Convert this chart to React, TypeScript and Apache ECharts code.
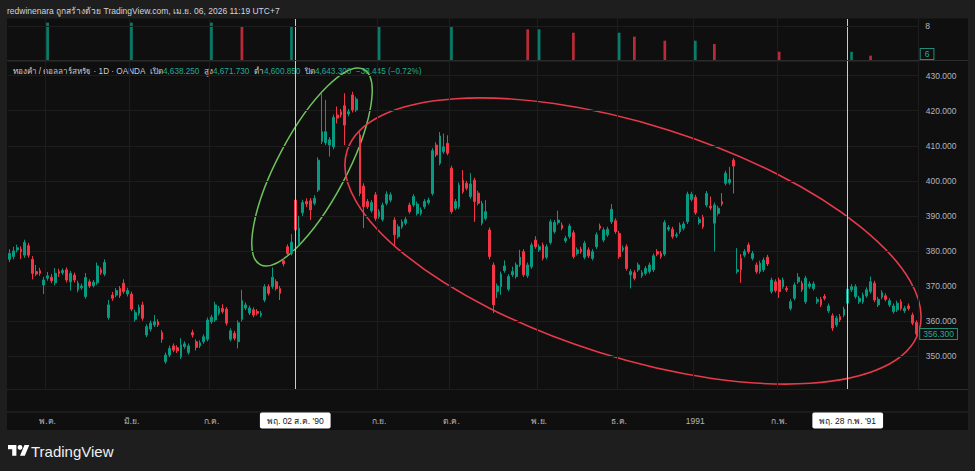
import React, { useEffect, useRef } from "react";
import * as echarts from "echarts";

const FONT = "'Liberation Sans', Arial, 'Noto Sans', 'DejaVu Sans', sans-serif";

// Trading days: weekdays from 1990-04-17, minus these holidays
const startDate = "1990-04-17";
const holidays = ["1990-05-28", "1990-07-04", "1990-09-03", "1990-11-22", "1990-12-25", "1991-01-01", "1991-02-18"];

// Candles: [open, close, low, high]
const candlesAprJul: number[][] = [
  [377.6, 379.3, 376.8, 380.5], [378.4, 380.0, 377.6, 381.2], [380.3, 380.9, 379.6, 381.8], [380.5, 379.8, 377.7, 381.3],
  [378.8, 382.4, 378.0, 383.2], [381.5, 378.8, 378.1, 382.3], [377.6, 373.6, 371.9, 378.5], [374.1, 373.4, 372.8, 376.0],
  [374.4, 373.6, 372.9, 375.2], [370.3, 371.7, 367.7, 372.6], [372.2, 372.9, 371.5, 374.0], [372.5, 371.5, 370.8, 373.4],
  [370.9, 373.6, 370.2, 375.1], [374.1, 373.6, 372.6, 374.9], [373.8, 374.4, 373.2, 375.0], [374.6, 371.7, 371.0, 375.3],
  [371.2, 373.6, 368.7, 374.3], [373.1, 371.7, 371.0, 373.8], [368.9, 370.8, 368.2, 371.5], [369.5, 370.0, 368.9, 370.7],
  [367.0, 372.4, 366.4, 373.7], [371.2, 370.0, 369.4, 371.9], [370.1, 371.1, 369.6, 371.7], [370.9, 375.7, 370.3, 376.7],
  [374.6, 373.8, 373.2, 375.3], [373.4, 376.7, 372.8, 377.6], [361.0, 364.6, 360.4, 366.0], [367.4, 366.5, 365.8, 368.3],
  [367.4, 368.7, 366.8, 369.4], [369.3, 367.2, 366.6, 370.0], [370.8, 368.4, 367.8, 371.9], [367.7, 368.7, 367.0, 369.5],
  [367.7, 363.4, 362.8, 368.4], [360.5, 362.4, 359.8, 363.2], [362.2, 363.9, 361.5, 364.7], [364.6, 360.8, 360.1, 365.5],
  [356.0, 358.4, 355.4, 359.1], [357.7, 359.4, 357.0, 360.1], [358.9, 359.8, 358.3, 361.7], [359.8, 358.9, 358.3, 360.5],
  [356.7, 354.8, 353.8, 357.4], [348.4, 350.3, 347.8, 351.0], [350.3, 352.2, 349.7, 353.0], [352.9, 351.7, 351.1, 353.6],
  [352.4, 351.5, 350.9, 353.1], [349.8, 353.2, 349.2, 355.1], [352.7, 353.5, 352.1, 354.2], [351.0, 352.9, 350.4, 353.6],
  [356.7, 356.0, 355.3, 357.5], [354.1, 352.5, 351.6, 354.8], [352.9, 353.8, 352.3, 354.5], [354.1, 355.5, 353.5, 356.2],
  [354.8, 360.3, 354.2, 361.0], [359.8, 361.1, 359.2, 361.8], [360.3, 364.6, 359.7, 365.5], [362.2, 363.6, 361.6, 364.3],
  [363.6, 362.7, 362.1, 364.8], [363.4, 359.4, 358.7, 364.0], [354.8, 357.2, 354.2, 357.9], [356.5, 355.1, 354.5, 357.2],
  [354.1, 359.5, 352.2, 360.2], [360.5, 365.8, 359.9, 368.9], [363.7, 364.6, 363.1, 365.3], [362.3, 363.7, 361.7, 364.4],
  [363.2, 361.7, 361.1, 363.9], [362.7, 362.2, 361.6, 363.4], [361.7, 362.2, 361.1, 362.9], [366.0, 369.8, 365.4, 370.5],
  [369.8, 367.9, 367.3, 370.5], [369.8, 372.5, 369.2, 375.3], [371.2, 369.3, 368.7, 371.9], [369.3, 367.9, 366.0, 370.0],
  [377.2, 376.3, 375.6, 378.0], [381.2, 379.3, 378.7, 381.9], [379.3, 382.5, 378.7, 384.8],
];
const candlesAugOct: number[][] = [
  [394.5, 386.0, 385.0, 395.3], [382.2, 386.5, 381.6, 390.0], [390.9, 393.8, 390.0, 394.6], [394.1, 393.4, 392.5, 395.0],
  [394.3, 391.7, 388.8, 395.1], [393.6, 395.0, 393.0, 395.9], [397.4, 405.9, 396.8, 406.7], [411.2, 414.0, 410.5, 425.0],
  [410.9, 414.0, 410.2, 423.1], [410.2, 411.7, 406.9, 412.5], [409.7, 418.1, 409.0, 418.9], [418.8, 417.9, 416.4, 421.2],
  [419.7, 418.8, 418.1, 420.5], [421.4, 415.9, 410.2, 425.0], [419.1, 419.7, 418.4, 420.5], [424.5, 420.2, 419.5, 425.4],
  [420.2, 423.3, 419.6, 424.0], [413.1, 396.4, 395.6, 413.9], [398.5, 392.6, 386.5, 399.3], [394.1, 392.6, 392.0, 394.8],
  [391.5, 393.8, 390.9, 394.5], [396.0, 389.3, 388.6, 396.8], [389.8, 391.2, 389.2, 391.9], [389.0, 393.1, 388.4, 393.8],
  [393.6, 396.2, 393.0, 397.0], [394.5, 396.0, 393.9, 396.7], [388.8, 384.6, 381.7, 389.6], [384.1, 386.9, 383.5, 387.6],
  [386.9, 388.3, 386.3, 389.0], [387.9, 389.0, 387.3, 389.7], [393.1, 391.2, 390.6, 393.8], [393.1, 395.5, 392.5, 396.2],
  [390.7, 393.4, 390.1, 394.1], [390.7, 391.7, 390.1, 392.4], [392.6, 394.1, 392.0, 394.8], [393.8, 394.5, 393.2, 395.2],
  [396.4, 408.6, 395.8, 409.3], [410.2, 407.4, 406.8, 411.0], [405.0, 412.8, 404.4, 413.9], [408.3, 409.7, 407.7, 413.5],
  [410.7, 407.9, 407.3, 413.0], [403.6, 391.2, 390.6, 404.3], [392.2, 394.1, 391.6, 394.8], [392.6, 398.8, 392.0, 399.5],
  [400.2, 396.9, 396.3, 403.1], [399.3, 397.9, 397.3, 400.0], [395.5, 399.1, 394.9, 402.2], [400.2, 394.1, 388.3, 400.9],
  [396.5, 393.6, 393.0, 397.2], [387.9, 393.6, 387.3, 394.3], [389.3, 391.2, 388.7, 394.5], [386.0, 378.4, 377.6, 386.7],
  [376.0, 364.6, 362.3, 376.7],
];
const candlesNovJan: number[][] = [
  [368.4, 370.0, 366.6, 370.7], [369.8, 373.4, 367.5, 374.1], [374.4, 375.7, 373.8, 377.3], [369.1, 372.7, 368.5, 373.4],
  [373.2, 374.1, 372.6, 375.5], [372.7, 376.0, 372.1, 376.7], [376.0, 378.2, 375.4, 380.3], [379.8, 373.2, 372.6, 380.5],
  [372.9, 376.0, 372.3, 376.7], [375.5, 381.7, 374.9, 382.4], [383.1, 381.2, 380.6, 384.2], [380.3, 381.2, 379.7, 381.9],
  [381.7, 377.9, 377.3, 382.4], [378.2, 381.2, 377.6, 381.9], [382.4, 388.3, 381.8, 389.0], [385.5, 388.1, 384.9, 388.8],
  [388.1, 388.8, 387.5, 391.5], [387.4, 386.5, 385.9, 388.1], [382.9, 383.6, 382.3, 384.3], [384.1, 387.1, 383.5, 387.8],
  [385.2, 378.4, 377.8, 385.9], [379.3, 380.3, 378.7, 381.0], [380.5, 379.8, 379.2, 381.2], [378.2, 382.2, 377.6, 382.9],
  [380.3, 378.6, 378.0, 381.0], [377.9, 379.8, 377.3, 380.5], [381.2, 384.6, 380.6, 385.3], [387.1, 386.5, 385.9, 387.8],
  [383.1, 386.0, 382.5, 386.7], [384.6, 386.2, 384.0, 386.9], [388.3, 391.9, 387.7, 393.4], [388.6, 385.5, 384.9, 389.3],
  [385.0, 378.4, 377.8, 385.7], [380.3, 380.8, 379.7, 381.5], [381.2, 375.0, 374.4, 381.9], [373.2, 374.1, 369.3, 374.8],
  [373.8, 372.2, 371.6, 374.5], [374.6, 376.0, 374.0, 376.7], [372.9, 373.8, 372.3, 374.5], [373.6, 375.0, 373.0, 375.7],
  [374.1, 376.0, 373.5, 376.7], [374.6, 378.6, 374.0, 379.3], [379.8, 379.1, 378.5, 380.5], [379.3, 378.4, 377.8, 380.0],
  [379.1, 388.1, 378.5, 388.8], [386.2, 386.7, 385.6, 387.4], [386.2, 384.1, 383.5, 386.9], [384.3, 384.6, 383.7, 385.3],
  [385.5, 387.4, 384.9, 388.1], [386.5, 387.7, 385.9, 388.4], [388.3, 396.2, 387.7, 396.9], [394.7, 396.2, 394.1, 396.9],
  [395.3, 390.9, 390.3, 396.0], [388.1, 389.0, 387.5, 389.7], [389.6, 386.9, 386.3, 390.3], [393.1, 396.4, 392.5, 397.1],
  [392.8, 392.3, 391.7, 395.5], [387.9, 393.1, 379.8, 393.8], [390.7, 392.2, 390.1, 392.9], [394.1, 393.4, 392.8, 396.5],
  [399.3, 402.2, 398.7, 402.9], [399.5, 400.4, 398.9, 404.0], [405.9, 404.2, 396.4, 406.5],
];
const candlesJanMar: number[][] = [
  [374.1, 374.6, 373.5, 380.8], [377.9, 374.6, 370.9, 379.1], [378.8, 379.8, 378.2, 380.5], [381.7, 379.8, 379.2, 382.4],
  [377.9, 379.3, 377.3, 380.0], [376.0, 374.1, 373.5, 376.7], [374.1, 376.5, 373.5, 377.2], [374.6, 377.4, 374.0, 378.1],
  [378.2, 376.3, 375.7, 378.9], [368.4, 371.7, 367.8, 372.4], [371.2, 368.7, 368.1, 371.9], [371.7, 368.4, 366.6, 372.4],
  [369.8, 371.7, 369.2, 372.4], [369.3, 368.9, 368.3, 370.0], [363.6, 365.5, 363.0, 366.2], [366.5, 370.3, 365.9, 371.0],
  [371.2, 372.5, 370.6, 373.7], [370.8, 368.9, 368.3, 371.5], [365.5, 372.2, 364.9, 372.9], [369.8, 370.6, 369.2, 371.3],
  [369.3, 370.6, 368.7, 371.3], [365.5, 366.2, 364.9, 366.9], [366.2, 364.6, 364.0, 366.9], [367.0, 366.5, 365.9, 367.7],
  [362.9, 364.3, 362.3, 365.0], [361.5, 358.0, 357.2, 362.2], [358.9, 360.8, 358.3, 361.5], [361.3, 360.3, 359.7, 362.0],
  [361.7, 363.4, 361.1, 364.1], [365.1, 369.1, 364.5, 369.8], [368.9, 369.8, 368.3, 370.5], [367.0, 369.8, 366.4, 370.5],
  [365.5, 366.5, 364.9, 367.2], [365.5, 367.4, 364.9, 368.1], [367.2, 368.9, 366.6, 369.6], [368.4, 371.2, 367.8, 372.7],
  [370.8, 366.0, 365.4, 371.5], [364.6, 366.2, 364.0, 366.9], [366.8, 368.1, 366.2, 368.8], [367.2, 366.2, 365.6, 367.9],
  [364.6, 365.8, 364.0, 366.5], [362.7, 364.3, 362.1, 365.0], [363.2, 365.1, 362.6, 365.8], [365.5, 363.6, 363.0, 366.2],
  [362.9, 363.6, 362.3, 364.3], [364.3, 363.6, 363.0, 365.0], [361.7, 359.4, 358.8, 362.4], [359.6, 356.3, 355.6, 360.2],
];

// Volume (sparse): bar index, value, up(1)/down(0)
const volumeIndex = [10, 32, 53, 61, 74, 97, 116, 136, 139, 148, 160, 164, 172, 180, 185, 202, 221, 226];
const volumeValue = [8.24, 8.24, 8.24, 8.0, 8.0, 8.0, 8.0, 7.76, 7.76, 7.52, 7.52, 7.24, 6.95, 6.95, 6.71, 6.16, 6.16, 5.88];
const volumeUp = [1, 1, 1, 0, 1, 1, 1, 0, 1, 0, 1, 0, 0, 1, 0, 0, 1, 0];

// Time axis labels
const monthDates = ["1990-05-01", "1990-06-01", "1990-07-02", "1990-09-04", "1990-10-01", "1990-11-01", "1990-12-03", "1991-01-02", "1991-02-01"];
const monthTexts = ["พ.ค.", "มิ.ย.", "ก.ค.", "ก.ย.", "ต.ค.", "พ.ย.", "ธ.ค.", "1991", "ก.พ."];
const markerDates = ["1990-08-02", "1991-02-28"];
const markerTexts = ["พฤ. 02 ส.ค. '90", "พฤ. 28 ก.พ. '91"];

const lastPrice = 356.3;
const lastVolumeLabel = 6;
const volumeTickLabel = 8;

const headerText = "redwinenara ถูกสร้างด้วย TradingView.com, เม.ย. 06, 2026 11:19 UTC+7";
const legendTitle = "ทองคำ / ดอลลาร์สหรัฐ · 1D · OANDA";
const legendLabels = ["เปิด", "สูง", "ต่ำ", "ปิด"];
const legendValues = ["4,638.250", "4,671.730", "4,600.850", "4,643.300"];
const legendChange = "−33.445 (−0.72%)";

const UP = "#089981";
const DOWN = "#f23645";
const GRID = "#1d1d1d";
const SEP = "#2b2b2b";
const TXT = "#b2b5be";

function buildDates(n: number): string[] {
  const out: string[] = [];
  const [y, m, d0] = startDate.split("-").map(Number);
  const d = new Date(Date.UTC(y, m - 1, d0));
  while (out.length < n) {
    const dow = d.getUTCDay();
    const s = d.toISOString().slice(0, 10);
    if (dow !== 0 && dow !== 6 && holidays.indexOf(s) < 0) out.push(s);
    d.setUTCDate(d.getUTCDate() + 1);
  }
  return out;
}

let tvRegistered = false;
function registerTvLogo() {
  if (tvRegistered) return;
  tvRegistered = true;
  const d = "M14 22H7V11H0V4h14v18zM28 22h-8l7.5-18h8L28 22z";
  echarts.graphic.registerShape("tvlogo", echarts.graphic.extendPath(d, {}) as any);
}

export default function App() {
  const ref = useRef<HTMLDivElement>(null);
  useEffect(() => {
    if (!ref.current) return;
    registerTvLogo();
    const chart = echarts.init(ref.current, undefined, { renderer: "svg" });
    const candles = [...candlesAprJul, ...candlesAugOct, ...candlesNovJan, ...candlesJanMar];
    const dates = buildDates(candles.length);
    const labelMap: Record<number, string> = {};
    monthDates.forEach((ds, k) => { const i = dates.indexOf(ds); if (i >= 0) labelMap[i] = monthTexts[k]; });
    const boxMap: Record<number, string> = {};
    markerDates.forEach((ds, k) => { const i = dates.indexOf(ds); if (i >= 0) boxMap[i] = markerTexts[k]; });

    const volData = dates.map((_, i) => {
      const k = volumeIndex.indexOf(i);
      if (k < 0) return "-";
      return { value: volumeValue[k], itemStyle: { color: volumeUp[k] ? "rgba(8,153,129,0.8)" : "rgba(242,54,69,0.75)" } };
    });

    const vLines = markerDates.map((ds) => ({ xAxis: ds, lineStyle: { color: "#c9cbd1", width: 1, type: "solid" }, label: { show: false } }));
    const hidden = { color: "rgba(0,0,0,0)", width: 0 };

    const G_LEFT = 7.6, G_RIGHT = 56.8;
    const green = 62 * Math.PI / 180;
    const red = -17.5 * Math.PI / 180;

    const legendRich = `{t|${legendTitle}}  ` + legendLabels.map((l, k) => `{l|${l}}{v|${legendValues[k]}}`).join("  ") + `  {v|${legendChange}}`;

    chart.setOption({
      animation: false,
      backgroundColor: "#0f0f0f",
      textStyle: { fontFamily: FONT },
      graphic: [
        { type: "rect", silent: true, shape: { x: 0, y: 0, width: 975, height: 18.5 }, style: { fill: "#1e1e1e" } },
        { type: "rect", silent: true, shape: { x: 0, y: 430, width: 975, height: 41 }, style: { fill: "#1e1e1e" } },
        { type: "rect", silent: true, shape: { x: 0, y: 0, width: 7, height: 471 }, style: { fill: "#1e1e1e" } },
        { type: "rect", silent: true, shape: { x: 968, y: 0, width: 7, height: 471 }, style: { fill: "#1e1e1e" } },
        { type: "line", silent: true, shape: { x1: 7, y1: 60.5, x2: 968, y2: 60.5 }, style: { stroke: SEP, lineWidth: 1 } },
        { type: "line", silent: true, shape: { x1: 7, y1: 389.5, x2: 968, y2: 389.5 }, style: { stroke: SEP, lineWidth: 1 } },
        { type: "line", silent: true, shape: { x1: 7, y1: 412, x2: 968, y2: 412 }, style: { stroke: SEP, lineWidth: 1 } },
        {
          type: "text", silent: true, x: 7, y: 11,
          style: { text: headerText, fill: "#d1d4dc", font: `8.5px ${FONT}`, verticalAlign: "middle" },
        },
        {
          type: "text", silent: true, x: 12.5, y: 71,
          style: {
            text: legendRich, verticalAlign: "middle", font: `8.2px ${FONT}`, fill: "#c9ccd4",
            rich: {
              t: { fill: "#c9ccd4", font: `8.2px ${FONT}` },
              l: { fill: "#c9ccd4", font: `8.2px ${FONT}` },
              v: { fill: "#22ab94", font: `8.2px ${FONT}` },
            },
          },
        },
        {
          type: "ellipse", silent: true, x: 312, y: 167, rotation: green,
          shape: { cx: 0, cy: 0, rx: 110.5, ry: 34.5 },
          style: { fill: "none", stroke: "#6fc35d", lineWidth: 1.5 },
        },
        {
          type: "ellipse", silent: true, x: 633, y: 241, rotation: red,
          shape: { cx: 0, cy: 0, rx: 299.7, ry: 116.4 },
          style: { fill: "none", stroke: "#e63a4b", lineWidth: 1.6 },
        },
        { type: "tvlogo", silent: true, x: 8, y: 442.6, scaleX: 0.6, scaleY: 0.6, style: { fill: "#ffffff" } },
        { type: "circle", silent: true, shape: { cx: 20, cy: 447.4, r: 2.4 }, style: { fill: "#ffffff" } },
        {
          type: "text", silent: true, x: 31, y: 451,
          style: { text: "TradingView", fill: "#f0f0f0", font: `15px ${FONT}`, verticalAlign: "middle" },
        },
      ],
      grid: [
        { left: G_LEFT, right: G_RIGHT, top: 19, height: 41 },
        { left: G_LEFT, right: G_RIGHT, top: 61, height: 328 },
      ],
      xAxis: [
        {
          type: "category", gridIndex: 0, data: dates, boundaryGap: true,
          axisLine: { show: false }, axisTick: { show: false }, axisLabel: { show: false },
          splitLine: { show: true, interval: (i: number) => labelMap[i] !== undefined, lineStyle: { color: GRID } },
        },
        {
          type: "category", gridIndex: 1, data: dates, boundaryGap: true,
          axisLine: { show: false }, axisTick: { show: false },
          splitLine: { show: true, interval: (i: number) => labelMap[i] !== undefined, lineStyle: { color: GRID } },
          axisLabel: {
            show: true,
            interval: (i: number) => labelMap[i] !== undefined || boxMap[i] !== undefined,
            margin: 31.5,
            verticalAlign: "middle",
            color: TXT,
            fontSize: 8.5,
            fontFamily: FONT,
            formatter: (_v: string, i: number) => {
              if (boxMap[i] !== undefined) return `{box|${boxMap[i]}}`;
              return labelMap[i] ?? "";
            },
            rich: {
              box: {
                backgroundColor: "#ffffff", color: "#131722", fontSize: 8.5, fontFamily: FONT,
                padding: [4, 7, 3, 7], borderRadius: 2,
              },
            },
          },
        },
      ],
      yAxis: [
        {
          type: "value", gridIndex: 0, position: "right", min: 5.57, max: 8.5, minInterval: 1, maxInterval: 1,
          axisLine: { show: false }, axisTick: { show: false }, splitLine: { show: false },
          axisLabel: {
            color: TXT, fontSize: 8.5, fontFamily: FONT, margin: 7, showMinLabel: false, showMaxLabel: false,
            formatter: (v: number) => (Math.abs(v - volumeTickLabel) < 1e-6 ? String(volumeTickLabel) : ""),
          },
        },
        {
          type: "value", gridIndex: 1, position: "right", min: 340.61, max: 434.19,
          minInterval: 10, maxInterval: 10, splitNumber: 9, scale: true,
          axisLine: { show: false }, axisTick: { show: false },
          splitLine: { show: true, lineStyle: { color: GRID } },
          axisLabel: {
            color: TXT, fontSize: 8.5, fontFamily: FONT, margin: 7.5, showMinLabel: false, showMaxLabel: false,
            formatter: (v: number) => (Math.abs(v / 10 - Math.round(v / 10)) < 1e-6 ? v.toFixed(3) : ""),
          },
        },
      ],
      series: [
        {
          type: "bar", xAxisIndex: 0, yAxisIndex: 0, data: volData, barWidth: 2.7, clip: true, silent: true,
          markLine: {
            silent: true, symbol: "none", animation: false,
            data: [
              ...vLines,
              { yAxis: volumeTickLabel, lineStyle: { color: GRID, width: 1, type: "solid" }, label: { show: false } },
              {
                yAxis: lastVolumeLabel, lineStyle: hidden,
                label: {
                  show: true, position: "end", distance: 2.5, formatter: String(lastVolumeLabel),
                  color: "#22ab94", fontSize: 8.5, fontFamily: FONT, backgroundColor: "#0f0f0f",
                  borderColor: "#1f8f7c", borderWidth: 1, padding: [1, 4, 0, 4],
                },
              },
            ],
          },
        },
        {
          type: "candlestick", xAxisIndex: 1, yAxisIndex: 1, data: candles, barWidth: 2.3, silent: true,
          itemStyle: { color: UP, color0: DOWN, borderColor: UP, borderColor0: DOWN, borderWidth: 1 },
          markLine: {
            silent: true, symbol: "none", animation: false,
            data: [
              ...vLines,
              {
                yAxis: lastPrice, lineStyle: hidden,
                label: {
                  show: true, position: "end", distance: 2, formatter: lastPrice.toFixed(3),
                  color: "#22ab94", fontSize: 8.5, fontFamily: FONT, backgroundColor: "#0f0f0f",
                  borderColor: "#1f8f7c", borderWidth: 1, padding: [1, 3, 0, 3],
                },
              },
            ],
          },
        },
      ],
    });
    return () => chart.dispose();
  }, []);
  return <div ref={ref} style={{ position: "fixed", left: 0, top: 0, width: 975, height: 471 }} />;
}
